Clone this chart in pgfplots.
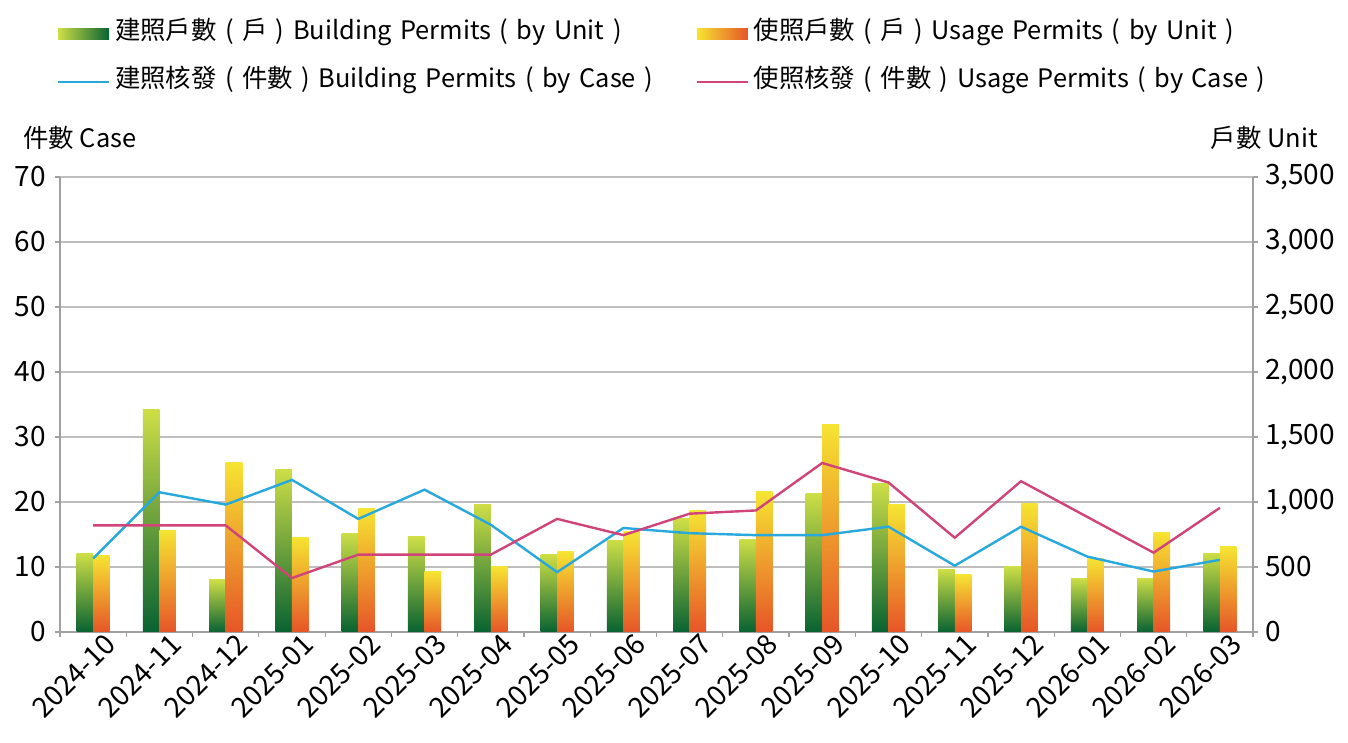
\documentclass[border=0pt]{standalone}
\usepackage{fontspec}
\setmainfont{Noto Sans CJK TC}
\usepackage{pgfplots}
\usepackage{pgfplotstable}
\pgfplotsset{compat=1.18}

\definecolor{gtop}{RGB}{205,222,70}
\definecolor{gbot}{RGB}{8,98,50}
\definecolor{otop}{RGB}{246,228,50}
\definecolor{obot}{RGB}{230,85,40}
\definecolor{lblue}{RGB}{40,168,220}
\definecolor{lpink}{RGB}{208,68,122}
\definecolor{gridc}{RGB}{190,190,190}
\definecolor{axisc}{RGB}{160,160,160}

\newcommand{\fs}{\fontsize{12.7}{15}\selectfont}
\newcommand{\ts}{\fontsize{14}{16}\selectfont}

% idx: month, bunit/uunit: units (right axis), bcase/ucase: cases (left axis)
\pgfplotstableread{
idx bunit uunit bcase ucase
0   604   589   11.3  16.4
1   1708  784   21.5  16.4
2   401   1307  19.6  16.4
3   1253  729   23.4  8.3
4   760   948   17.4  11.9
5   732   464   21.9  11.9
6   984   503   16.5  11.9
7   596   620   9.2   17.4
8   706   771   16.0  14.9
9   870   935   15.2  18.2
10  713   1078  14.9  18.7
11  1065  1599  14.9  26.0
12  1141  979   16.2  23.0
13  482   440   10.2  14.5
14  503   992   16.2  23.2
15  414   565   11.6  17.7
16  414   768   9.3   12.2
17  607   654   11.1  19.1
}\permits

\begin{document}
\begin{tikzpicture}
\useasboundingbox (-30pt,-55.5pt) rectangle (644pt,316pt);
\pgfplotsset{
  common/.style={
    scale only axis, width=596.5pt, height=227.5pt,
    at={(0,0)}, anchor=south west,
    xmin=-0.5, xmax=17.5,
    tick align=outside, major tick length=2.5pt,
    axis line style={axisc, line width=0.6pt},
    tick style={axisc, line width=0.6pt},
    /pgf/number format/assume math mode=true,
    /pgf/number format/1000 sep={,},
    ticklabel style={font=\ts},
  },
}

% units: bars on the right axis, one plot per bar so that each bar gets its own gradient
\begin{axis}[common,
    ymin=0, ymax=3500, ytick={0,500,...,3500},
    axis y line*=right, axis x line*=bottom,
    ymajorgrids, grid style={gridc, line width=0.7pt},
    xtick={0,...,17},
    xticklabels={2024-10,2024-11,2024-12,2025-01,2025-02,2025-03,2025-04,2025-05,2025-06,
                 2025-07,2025-08,2025-09,2025-10,2025-11,2025-12,2026-01,2026-02,2026-03},
    major x tick style={draw=none},
    minor xtick={-0.5,0.5,...,17.5},
    minor tick length=2.5pt,
    xticklabel style={rotate=45, anchor=east, xshift=8.5pt, yshift=-7pt},
    yticklabel style={anchor=west},
]
\pgfplotsinvokeforeach{0,...,17}{
  \addplot[ybar, bar width=0.25, bar shift=-0.125, draw=none, top color=gtop, bottom color=gbot,
    x filter/.code={\ifnum\coordindex=#1\relax\else\def\pgfmathresult{}\fi}]
    table[x=idx, y=bunit]{\permits};
  \addplot[ybar, bar width=0.25, bar shift=0.125, draw=none, top color=otop, bottom color=obot,
    x filter/.code={\ifnum\coordindex=#1\relax\else\def\pgfmathresult{}\fi}]
    table[x=idx, y=uunit]{\permits};
}
\end{axis}

% cases: lines on the left axis, with the legend
\begin{axis}[common, clip=false,
    ymin=0, ymax=70, ytick={0,10,...,70},
    axis y line*=left, axis x line=none, xtick=\empty,
    yticklabel style={xshift=-1pt},
    legend columns=2,
    legend cell align=left,
    legend image code/.code={\draw[#1] (0pt,0pt) -- (25.5pt,0pt);},
    legend style={draw=none, fill=none, inner sep=0pt, outer sep=0pt,
      at={(axis description cs:-0.0025,1.341)}, anchor=north west,
      column sep=2.3pt, row sep=12pt, font=\fs,
      nodes={inner sep=0pt, text height=9pt, text depth=3pt, text width=288pt, align=left}},
]
\addlegendimage{legend image code/.code={\shade[draw=none, left color=gtop, right color=gbot] (0pt,-2.6pt) rectangle (25.5pt,2.6pt);}}
\addlegendentry{建照戶數 ( 戶 ) Building Permits ( by Unit )}
\addlegendimage{legend image code/.code={\shade[draw=none, left color=otop, right color=obot] (0pt,-2.6pt) rectangle (25.5pt,2.6pt);}}
\addlegendentry{使照戶數 ( 戶 ) Usage Permits ( by Unit )}
\addplot[lblue, line width=1.2pt, mark=none] table[x=idx, y=bcase]{\permits};
\addlegendentry{建照核發 ( 件數 ) Building Permits ( by Case )}
\addplot[lpink, line width=1.2pt, mark=none] table[x=idx, y=ucase]{\permits};
\addlegendentry{使照核發 ( 件數 ) Usage Permits ( by Case )}
\node[anchor=west, font=\fs, inner sep=0pt] at (axis description cs:-0.031,1.0857) {件數 Case};
\node[anchor=east, font=\fs, inner sep=0pt] at (axis description cs:1.0545,1.0857) {戶數 Unit};
\end{axis}
\end{tikzpicture}
\end{document}
